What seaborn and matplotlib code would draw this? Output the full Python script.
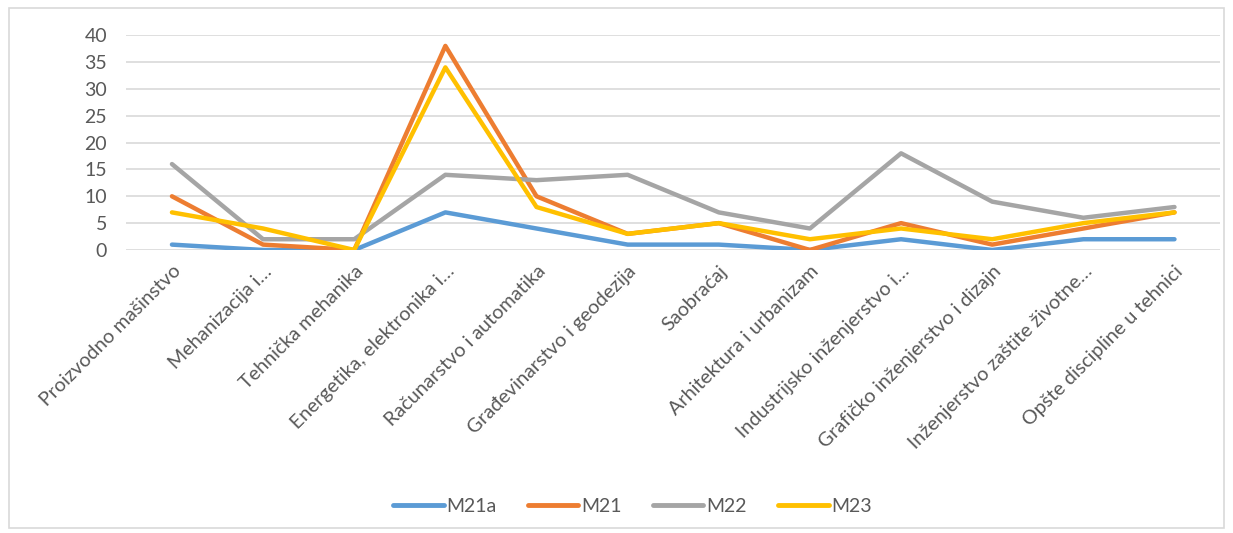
import matplotlib
matplotlib.use("Agg")
import matplotlib.pyplot as plt
import seaborn as sns
import pandas as pd
from matplotlib.patches import Rectangle

categories = [
    "Proizvodno mašinstvo",
    "Mehanizacija i…",
    "Tehnička mehanika",
    "Energetika, elektronika i…",
    "Računarstvo i automatika",
    "Građevinarstvo i geodezija",
    "Saobraćaj",
    "Arhitektura i urbanizam",
    "Industrijsko inženjerstvo i…",
    "Grafičko inženjerstvo i dizajn",
    "Inženjerstvo zaštite životne…",
    "Opšte discipline u tehnici",
]
m21a = [1, 0, 0, 7, 4, 1, 1, 0, 2, 0, 2, 2]
m21 = [10, 1, 0, 38, 10, 3, 5, 0, 5, 1, 4, 7]
m22 = [16, 2, 2, 14, 13, 14, 7, 4, 18, 9, 6, 8]
m23 = [7, 4, 0, 34, 8, 3, 5, 2, 4, 2, 5, 7]
series_names = ["M21a", "M21", "M22", "M23"]
y_ticks = [0, 5, 10, 15, 20, 25, 30, 35, 40]

colors = ["#5B9BD5", "#ED7D31", "#A5A5A5", "#FFC000"]

sns.set_theme(style="white")
plt.rcParams["font.family"] = ["Lato", "DejaVu Sans"]

rows = []
for name, vals in zip(series_names, [m21a, m21, m22, m23]):
    for i, v in enumerate(vals):
        rows.append({"idx": i, "value": v, "series": name})
df = pd.DataFrame(rows)

fig = plt.figure(figsize=(12.33, 5.33), dpi=100)
ax = fig.add_axes([0.1025, 0.531, 0.887, 0.403])

sns.lineplot(data=df, x="idx", y="value", hue="series", hue_order=series_names,
             palette=colors, sort=False, linewidth=3.2, ax=ax, legend=True)

ax.set_xlim(-0.5, len(categories) - 0.5)
ax.set_ylim(0, 40)
ax.set_yticks(y_ticks)
ax.set_yticklabels([str(t) for t in y_ticks], fontsize=14, color="#595959")
ax.set_xticks(range(len(categories)))
ax.set_xticklabels(categories, rotation=45, ha="right", rotation_mode="anchor",
                   fontsize=14.2, color="#595959")
ax.tick_params(axis="x", length=0, pad=9)
ax.tick_params(axis="y", length=0, pad=14)
ax.yaxis.grid(True, color="#D9D9D9", linewidth=1.2)
ax.set_axisbelow(True)
for s in ax.spines.values():
    s.set_visible(False)
ax.set_xlabel("")
ax.set_ylabel("")

handles, labels = ax.get_legend_handles_labels()
for h in handles:
    h.set_linewidth(3.5)
ax.legend(handles, labels, loc="center", bbox_to_anchor=(0.513, 0.05),
          bbox_transform=fig.transFigure, ncol=4, frameon=False,
          fontsize=14, handlelength=2.6, columnspacing=1.6, handletextpad=0.15,
          labelcolor="#595959")

fig.patches.append(Rectangle((0.007, 0.01), 0.986, 0.975, transform=fig.transFigure,
                             fill=False, edgecolor="#D9D9D9", linewidth=1.2))

fig.savefig("out.png", dpi=100, facecolor="white")
